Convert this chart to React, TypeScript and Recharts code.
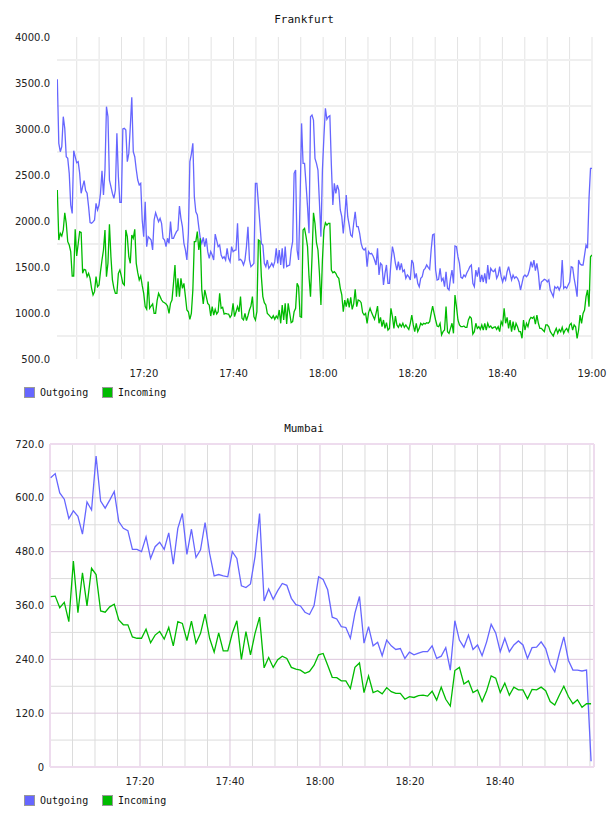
import { LineChart, Line, XAxis, YAxis, CartesianGrid } from 'recharts'

// Frankfurt: 20 second samples, 17:00:40 .. 19:00
const fraOutgoing = [
  3540, 2844, 2753, 2808, 3134, 3007, 2699, 2681, 2518, 2174,
  2083, 2764, 2699, 2634, 2645, 2520, 2301, 2373, 2438, 2330,
  2301, 2156, 1982, 1975, 1990, 2011, 2192, 2120, 2174, 2301,
  2547, 2283, 2554, 3243, 3134, 2445, 2373, 2300, 2246, 2337,
  2953, 2482, 2203, 2203, 3000, 3007, 2989, 2645, 2735, 3025,
  3344, 2753, 2699, 2560, 2445, 2391, 2409, 2011, 1830, 2210,
  1721, 1830, 1812, 1793, 1685, 2011, 2090, 2040, 1993, 2029,
  1975, 1812, 1793, 1721, 1812, 1757, 1993, 1812, 1812, 1850,
  1884, 1902, 2163, 2029, 1938, 1757, 1685, 1576, 1866, 2645,
  2728, 2844, 2264, 2101, 2065, 1930, 1812, 1757, 1822, 1721,
  1812, 1667, 1594, 1667, 1630, 1576, 1858, 1790, 1721, 1739,
  1630, 1594, 1612, 1576, 1703, 1594, 1558, 1721, 1667, 1680,
  1685, 1975, 1576, 1583, 1565, 1522, 1576, 1721, 1938, 1576,
  1504, 1520, 1540, 2409, 2409, 2192, 1975, 1757, 1739, 1540,
  1504, 1576, 1485, 1510, 1540, 1504, 1558, 1703, 1540, 1685,
  1522, 1703, 1485, 1721, 1504, 1515, 1522, 1685, 1775, 2518,
  2554, 1685, 1576, 2228, 3061, 2626, 2626, 2400, 2156, 1866,
  3134, 3152, 3097, 2681, 2626, 2554, 2200,
  1830, 2554, 2916, 3225, 3105, 3134, 3145, 2608, 2174, 2409,
  2301, 2391, 2337, 2120, 2047, 1866, 2047, 2283, 2047, 1956,
  1848, 1830, 1975, 2101, 1938, 1938, 1866, 1757, 1703, 1685,
  1703, 1504, 1667, 1641, 1648, 1620, 1576, 1522, 1703, 1413,
  1540, 1522, 1304, 1431, 1522, 1322, 1322, 1540, 1721, 1648,
  1540, 1467, 1558, 1467, 1540, 1449, 1467, 1377, 1413, 1395,
  1359, 1576, 1540, 1377, 1431, 1322, 1286, 1377, 1395, 1467,
  1485, 1522, 1496, 1475, 1685, 1848, 1858, 1467, 1359, 1366,
  1485, 1351, 1377, 1286, 1449, 1268, 1250, 1377, 1467, 1322,
  1728, 1721, 1612, 1540, 1388, 1377, 1413, 1395, 1438, 1467,
  1504, 1522, 1322, 1286, 1467, 1395, 1496, 1337, 1413, 1337,
  1431, 1322, 1522, 1366, 1485, 1460, 1449, 1475, 1377, 1413,
  1504, 1395, 1337, 1395, 1359, 1449, 1504, 1431, 1359, 1413,
  1377, 1395, 1377, 1337, 1250, 1322, 1395, 1413, 1395, 1413,
  1467, 1558, 1496, 1576, 1460, 1540, 1431, 1250, 1337, 1351,
  1366, 1359, 1337, 1359, 1250, 1214, 1178, 1286, 1268, 1286,
  1250, 1293, 1576, 1268, 1286, 1268, 1304, 1337, 1504, 1496,
  1377, 1286, 1178, 1576, 1533, 1522, 1522, 1630, 1739, 1703,
  2246, 2572, 2572,
]

const fraIncoming = [
  2337, 1793, 1866, 1837, 1902, 2090, 1975, 1775, 1739, 1667,
  1402, 1402, 1909, 1620, 1750, 1884, 1877, 1431, 1475, 1467,
  1395, 1431, 1377, 1268, 1196, 1232, 1395, 1286, 1304, 1450,
  1576, 1685, 1902, 1395, 1540, 1964, 1612, 1359, 1268, 1214,
  1214, 1431, 1467, 1400, 1322, 1304, 1902, 1830, 1612, 1540,
  1848, 1812, 1909, 1540, 1438, 1359, 1402, 1300, 1214, 1069,
  1040, 1341, 1051, 1076, 1098, 996, 996, 1134, 1214, 1178,
  1141, 1120, 1112, 1098, 1076, 996, 1105, 1141, 1322, 1522,
  1178, 1377, 1178, 1377, 1268, 1322, 1180, 1033, 1014, 931,
  996, 1250, 1775, 1775, 1884, 1685, 1812, 1250, 1098, 1250,
  1180, 1105, 1087, 967, 1069, 978, 1040, 989, 1014, 1214,
  1051, 1062, 989, 996, 990, 989, 953, 978, 1105, 960,
  1014, 1069, 1014, 1178, 942, 924, 996, 917, 970, 1033,
  1076, 1178, 960, 924, 1014, 1793, 1782, 1395, 1178, 1112,
  1087, 996, 980, 960, 942, 971, 931, 967, 942, 1033,
  888, 1087, 924, 1105, 880, 1105, 1000, 895, 906, 1014,
  1051, 1322, 1286, 960, 953, 1902, 1920, 1830, 1721, 1395,
  1178, 1600, 2090, 1975, 1764, 1685, 1431,
  1087, 1576, 1902, 1982, 1956, 1975, 1975, 1467, 1438, 1449,
  1431, 1395, 1377, 1268, 1196, 1014, 1141, 1069, 1159, 1062,
  1170, 1040, 1098, 1257, 1069, 1141, 1134, 1112, 1004, 978,
  996, 888, 1004, 1051, 1004, 967, 931, 996, 1076, 888,
  953, 851, 924, 833, 895, 815, 833, 1051, 960, 833,
  967, 870, 844, 880, 851, 888, 844, 870, 844, 822,
  888, 978, 870, 797, 888, 797, 833, 888, 870, 888,
  880, 895, 888, 906, 996, 1076, 996, 924, 859, 851,
  888, 761, 797, 815, 1069, 797, 779, 833, 888, 779,
  1196, 1069, 924, 870, 851, 851, 859, 844, 844, 924,
  960, 942, 772, 797, 888, 833, 851, 822, 870, 815,
  888, 815, 888, 844, 859, 833, 844, 851, 822, 851,
  797, 906, 870, 1051, 888, 953, 833, 924, 797, 906,
  815, 888, 851, 797, 797, 725, 924, 815, 888, 851,
  924, 953, 942, 960, 880, 978, 888, 833, 833, 815,
  797, 870, 870, 851, 797, 772, 750, 797, 833, 779,
  822, 797, 844, 779, 815, 833, 797, 870, 888, 815,
  870, 851, 725, 815, 978, 888, 996, 1033, 1178, 1250,
  1069, 1612, 1630,
]

// minutes after 17:00
const FRA_START = 0.67
const FRA_END = 120

// Mumbai: one sample per minute
const mumOutgoing = [
  645, 654, 611, 597, 554, 571, 559, 519, 591, 573,
  693, 593, 577, 595, 614, 547, 532, 527, 485, 485,
  480, 513, 465, 491, 501, 485, 522, 452, 532, 565,
  474, 530, 467, 484, 545, 476, 426, 429, 426, 424,
  480, 465, 404, 400, 408, 469, 565, 370, 397, 374,
  393, 409, 405, 376, 362, 359, 345, 340, 360,
  424, 418, 395, 334, 330, 313, 311, 287, 343, 380,
  276, 313, 270, 278, 248, 283, 270, 262, 264, 242,
  256, 250, 254, 257, 257, 270, 242, 247, 266, 216,
  326, 283, 267, 294, 262, 272, 248, 279, 318, 299,
  257, 287, 257, 272, 281, 272, 242, 266, 267, 279,
  264, 229, 212, 253, 290, 238, 216, 216, 214, 216, 13,
]

const mumIncoming = [
  380, 381, 355, 367, 324, 459, 344, 433, 359, 443,
  429, 348, 345, 357, 363, 328, 317, 317, 290, 287,
  287, 307, 277, 294, 302, 285, 311, 270, 324, 320,
  282, 325, 276, 298, 341, 287, 256, 299, 259, 259,
  298, 326, 240, 302, 250, 298, 334, 221, 244, 222,
  239, 247, 242, 222, 218, 216, 209, 213, 227,
  250, 253, 227, 200, 199, 192, 192, 175, 222, 232,
  166, 203, 166, 170, 163, 177, 168, 164, 164, 151,
  157, 155, 159, 160, 158, 169, 149, 178, 151, 136,
  215, 222, 185, 192, 166, 172, 146, 170, 203, 198,
  166, 187, 160, 178, 172, 172, 152, 173, 172, 178,
  170, 146, 138, 160, 180, 157, 141, 150, 133, 141, 141,
]

const MUM_START = 0.15
const MUM_END = 120.25

const fraYTicks = [500, 1000, 1500, 2000, 2500, 3000, 3500, 4000]
const fraYLines = [750, 1250, 1750, 2250, 2750, 3250, 3750]
const fraTimeTicks = [20, 40, 60, 80, 100, 120]
const mumTimeTicks = [20, 40, 60, 80, 100]
const mumYTicks = [0, 120, 240, 360, 480, 600, 720]
const mumYMajor = [120, 240, 360, 480, 600]
const mumYMinor = [60, 180, 300, 420, 540, 660]
const fiveMinutes = [5, 10, 15, 20, 25, 30, 35, 40, 45, 50, 55, 60, 65, 70, 75, 80, 85, 90, 95, 100, 105, 110, 115, 120]
const mumMinorTimes = fiveMinutes.filter((m) => m % 20 !== 0 || m === 120)

const BLUE = '#6666ff'
const GREEN = '#00bb00'

function toRows(out: number[], inc: number[], start: number, end: number) {
  const step = (end - start) / (out.length - 1)
  return out.map((v, i) => ({ t: start + i * step, outgoing: v, incoming: inc[i] }))
}

const fraRows = toRows(fraOutgoing, fraIncoming, FRA_START, FRA_END)
const mumRows = toRows(mumOutgoing, mumIncoming, MUM_START, MUM_END)

const clock = (m: number) => {
  const h = 17 + Math.floor(m / 60)
  const mm = Math.round(m % 60)
  return `${h}:${String(mm).padStart(2, '0')}`
}

const tickFont = { fontSize: 10, fill: '#222', fontFamily: 'DejaVu Sans' }

function Title({ text, top }: { text: string; top: number }) {
  return (
    <div
      style={{
        position: 'absolute', left: 0, top, width: 608, textAlign: 'center',
        fontFamily: 'DejaVu Sans Mono', fontSize: 11, lineHeight: '14px', color: '#111',
      }}
    >
      {text}
    </div>
  )
}

function Legend({ top }: { top: number }) {
  const items = [
    { name: 'Outgoing', color: BLUE, left: 24 },
    { name: 'Incoming', color: GREEN, left: 102 },
  ]
  return (
    <>
      {items.map((it) => (
        <div key={it.name} style={{ position: 'absolute', left: it.left, top, height: 12, display: 'flex', alignItems: 'center' }}>
          <div style={{ width: 9, height: 9, background: it.color, border: '1px solid #999' }} />
          <span style={{ marginLeft: 5, fontFamily: 'DejaVu Sans Mono', fontSize: 10, color: '#111' }}>{it.name}</span>
        </div>
      ))}
    </>
  )
}

export default function App() {
  return (
    <div style={{ position: 'absolute', left: 0, top: 0, width: 608, height: 816, background: '#fff' }}>
      <Title text="Frankfurt" top={13} />
      <div style={{ position: 'absolute', left: 0, top: 0 }}>
        <LineChart width={608} height={400} data={fraRows} margin={{ top: 37, right: 16, bottom: 11, left: 0 }}>
          <CartesianGrid horizontal={false} verticalValues={fiveMinutes} stroke="#e3e3e3" strokeWidth={1} />
          <CartesianGrid vertical={false} horizontalValues={fraYLines} stroke="#efefef" strokeWidth={2} />
          <XAxis
            dataKey="t" type="number" domain={[0.6, 120]} ticks={fraTimeTicks} tickFormatter={clock}
            interval={0} axisLine={false} tickLine={false} tickMargin={5} tick={tickFont} allowDataOverflow
          />
          <YAxis
            type="number" domain={[500, 4000]} ticks={fraYTicks} tickFormatter={(v: number) => v.toFixed(1)}
            interval={0} width={57} axisLine={false} tickLine={false} tickMargin={1} tick={tickFont}
          />
          <Line dataKey="outgoing" stroke={BLUE} strokeWidth={1.3} dot={false} isAnimationActive={false} />
          <Line dataKey="incoming" stroke={GREEN} strokeWidth={1.3} dot={false} isAnimationActive={false} />
        </LineChart>
      </div>
      <Legend top={386} />

      <Title text="Mumbai" top={422} />
      <div style={{ position: 'absolute', left: 0, top: 407 }}>
        <LineChart width={608} height={400} data={mumRows} margin={{ top: 37, right: 14, bottom: 10, left: 0 }}>
          <CartesianGrid horizontalValues={mumYMinor} verticalValues={mumMinorTimes} stroke="#dcdcdc" strokeWidth={1} />
          <CartesianGrid horizontalValues={mumYMajor} verticalValues={mumTimeTicks} stroke="#dcc6dc" strokeWidth={1} />
          <CartesianGrid horizontalValues={[0, 720]} verticalValues={[0, 120.9]} stroke="#eedcee" strokeWidth={2} />
          <XAxis
            dataKey="t" type="number" domain={[0, 120.9]} ticks={mumTimeTicks} tickFormatter={clock}
            interval={0} axisLine={false} tickLine={false} tickMargin={5} tick={tickFont} allowDataOverflow
          />
          <YAxis
            type="number" domain={[0, 720]} ticks={mumYTicks} tickFormatter={(v: number) => (v === 0 ? '0' : v.toFixed(1))}
            interval={0} width={50} axisLine={false} tickLine={false} tickMargin={0} tick={tickFont}
          />
          <Line dataKey="outgoing" stroke={BLUE} strokeWidth={1.3} dot={false} isAnimationActive={false} />
          <Line dataKey="incoming" stroke={GREEN} strokeWidth={1.3} dot={false} isAnimationActive={false} />
        </LineChart>
      </div>
      <Legend top={794} />
    </div>
  )
}
